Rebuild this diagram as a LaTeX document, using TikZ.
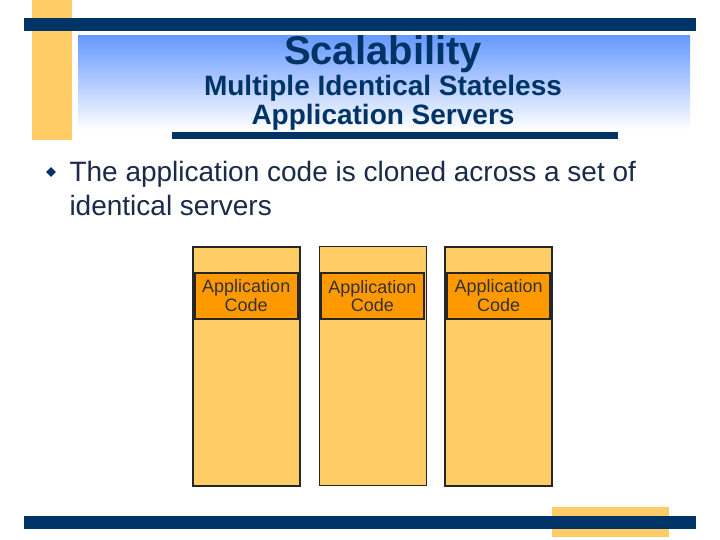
\documentclass[tikz,border=0pt]{standalone}
\usepackage{fontspec}
\setmainfont{Liberation Sans}
\usetikzlibrary{positioning,shapes.geometric}

\definecolor{navy}{HTML}{003366}
\definecolor{sand}{HTML}{FFCC66}
\definecolor{amber}{HTML}{FF9900}
\definecolor{sky}{HTML}{6699FF}
\definecolor{ink}{HTML}{1A2A48}

\begin{document}
\begin{tikzpicture}[
  x=1pt,
  y=-1pt,
  node distance=18pt,
  bar/.style={
    fill=navy,
    draw=none
  },
  server/.style={
    draw=black!85,
    line width=1.5pt,
    fill=sand,
    minimum width=107pt,
    minimum height=239pt,
    inner sep=0pt
  },
  codebox/.style={
    draw=black!85,
    line width=1.5pt,
    fill=amber,
    align=center,
    minimum width=103pt,
    minimum height=46pt,
    inner sep=0pt,
    text=black!80,
    font=\fontsize{18}{18.5}\selectfont
  }
]
\useasboundingbox[fill=white] (0,0) rectangle (720,540);

% --- Slide frame ---
\fill[sand] (32,0) rectangle (72,140);
\fill[bar] (24,18) rectangle (696,31);
\shade[top color=sky, bottom color=white] (78,36) rectangle (690,130);
\fill[bar] (172,132) rectangle (618,139);
\fill[sand] (552,507) rectangle (669,537);
\fill[bar] (24,516) rectangle (696,529);

% --- Title (base anchor sits on the last line) ---
\node[font=\bfseries\fontsize{40}{40}\selectfont, text=navy, anchor=base] (title) at (383,65) {Scalability};
\node[font=\bfseries\fontsize{28}{29}\selectfont, text=navy, align=center, anchor=base] (subtitle) at (383,125)
{Multiple Identical Stateless\\Application Servers};

% --- Bullet ---
\node[diamond, fill=navy, minimum size=10pt, inner sep=0pt] (dot) at (51,172) {};
\node[font=\fontsize{28}{33}\selectfont, text=ink, align=left, anchor=base west] (point) at (66,215)
{The application code is cloned across a set of\\identical servers};

% --- Servers ---
\node[server, anchor=north west] (srvA) at (192,246) {};
\node[server, right=of srvA, line width=0.8pt] (srvB) {};
\node[server, right=of srvB] (srvC) {};

\node[codebox, below=26pt of srvA.north] (codeA) {Application\\Code};
\node[codebox, below=26pt of srvB.north] (codeB) {Application\\Code};
\node[codebox, below=26pt of srvC.north] (codeC) {Application\\Code};

\end{tikzpicture}
\end{document}
